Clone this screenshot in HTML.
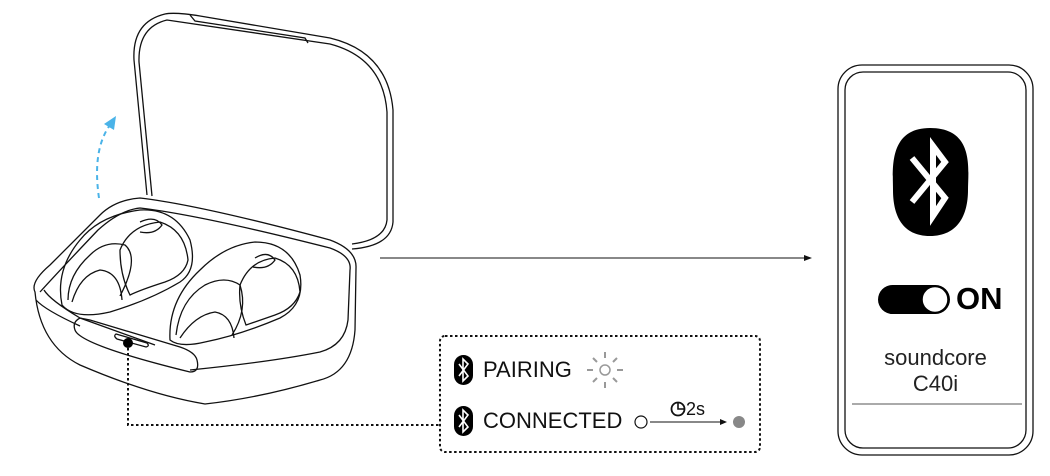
<!DOCTYPE html>
<html><head><meta charset="utf-8"><style>
html,body{margin:0;padding:0;background:#fff;}
body{width:1050px;height:476px;position:relative;overflow:hidden;font-family:"Liberation Sans",sans-serif;}
.t{position:absolute;white-space:nowrap;color:#111;}
</style></head><body>
<svg width="1050" height="476" style="position:absolute;left:0;top:0" fill="none" stroke="#111" stroke-width="1.3">
<!-- lid -->
<path d="M147,195 L134,60 Q132,22 165,14 Q175,12 200,16 L330,38 Q388,52 393,110 L393,222 Q391,246 352,249"/>
<path d="M152,196 L139,62 Q138,27 167,20 L330,44 Q383,58 387,112 L387,220 Q385,240 352,244"/>
<path d="M190,15 L195,21 L305,38 L308,43"/>
<!-- base outer -->
<path d="M35,292 Q30,282 50,265 L100,215 Q115,200 140,198 Q200,205 330,240 Q357,250 356,268 L355,330 Q352,372 320,380 Q260,398 205,404 Q150,395 80,365 Q40,345 35,292 Z"/>
<path d="M40,292 Q60,270 98,230 Q120,210 140,208 Q200,215 330,248 Q352,256 350,270 L348,320 Q345,345 320,352 Q270,362 190,370"/>
<path d="M44,290 Q50,300 80,318 L155,345"/>
<path d="M36,300 Q45,310 80,326"/>
<!-- front panel -->
<path d="M80,318 Q72,322 75,330 Q80,345 190,372 Q200,372 197,360 Q195,352 180,347 L90,320 Z"/>
<path d="M116,334 L147,343 Q150,346 146,347 L117,339 Q113,336 116,334 Z"/>
<!-- left earbud cavity -->
<path d="M62,305 Q55,270 80,240 Q100,215 140,210 Q175,208 190,240 Q198,270 180,282 Q150,300 110,312 Q75,320 62,305 Z"/>
<path d="M68,300 Q68,275 90,255 Q105,240 125,245 Q140,258 120,296"/>
<path d="M72,302 Q80,275 100,270 Q120,272 122,300"/>
<path d="M120,250 Q130,225 160,222 Q185,230 188,260 Q185,275 165,282 Q140,290 130,295 Q120,275 120,250 Z"/>
<path d="M140,222 Q155,215 162,225 Q155,235 140,232"/>
<!-- right earbud cavity -->
<path d="M170,340 Q168,300 200,270 Q225,245 255,242 Q290,242 300,275 Q305,305 280,318 Q240,335 205,342 Q180,348 170,340 Z"/>
<path d="M176,335 Q180,300 205,285 Q225,275 240,285 Q248,310 232,335"/>
<path d="M180,338 Q195,315 215,312 Q232,315 234,338"/>
<path d="M240,285 Q250,260 275,258 Q298,265 300,292 Q295,308 275,315 Q255,322 246,325 Q238,305 240,285 Z"/>
<path d="M255,258 Q268,250 275,260 Q268,270 253,267"/>
<!-- connectors -->
<circle cx="128" cy="343" r="5" fill="#000" stroke="none"/>
<path d="M128,348 L128,425 L440,425" stroke-dasharray="2.5,2.5" stroke-width="2"/>
<rect x="440" y="336" width="320" height="116" rx="5" stroke-dasharray="2.5,2.5" stroke-width="2"/>
<path d="M380,258 L806,258" stroke-width="1"/>
<path d="M812,258 L804,255 L804,261 Z" fill="#111" stroke="none"/>
<path d="M99,198 Q92,150 110,125" stroke="#4ab3e8" stroke-width="2" stroke-dasharray="5,4"/>
<path d="M116,116 L104,124 L114,130 Z" fill="#4ab3e8" stroke="none"/>
<!-- status icons -->
<rect x="454" y="355" width="19" height="30" rx="9.5" fill="#000" stroke="none"/>
<path d="M459,364 L468,376 L463,381 L463,359 L468,364 L459,376" stroke="#fff" stroke-width="1.6"/>
<rect x="454" y="406" width="19" height="30" rx="9.5" fill="#000" stroke="none"/>
<path d="M459,415 L468,427 L463,432 L463,410 L468,415 L459,427" stroke="#fff" stroke-width="1.6"/>
<g stroke="#999" stroke-width="2">
<circle cx="605" cy="370" r="5" stroke-width="1.5"/>
<path d="M605,352 L605,358 M605,382 L605,388 M587,370 L593,370 M617,370 L623,370 M593,358 L597,362 M613,378 L617,382 M617,358 L613,362 M597,378 L593,382"/>
</g>
<circle cx="641" cy="422" r="6" stroke-width="1.2"/>
<path d="M650,422 L722,422" stroke-width="1"/>
<path d="M727,422 L720,419 L720,425 Z" fill="#111" stroke="none"/>
<circle cx="739" cy="422" r="6" fill="#888" stroke="none"/>
<circle cx="678" cy="409" r="6.5" stroke-width="1.8"/>
<path d="M678,402.5 L678,409 L684.5,409" stroke-width="1.6"/>
<!-- phone -->
<rect x="838" y="65" width="195" height="390" rx="24" stroke-width="1.3"/>
<rect x="845" y="72" width="181" height="376" rx="18" stroke-width="1.3"/>
<path d="M930,128 C975,128 968,170 968,190 C968,215 958,236 930,236 C902,236 893,215 893,190 C893,170 888,128 930,128 Z" fill="#000" stroke="none"/>
<path d="M912,158 L945,198 L933,216 L933,146 L945,162 L912,202" stroke="#fff" stroke-width="6" stroke-linejoin="miter"/>
<rect x="878" y="285" width="72" height="29" rx="14.5" fill="#000" stroke="none"/>
<circle cx="935" cy="299.5" r="13" fill="#fff" stroke="#000" stroke-width="1.5"/>
<path d="M852,404 L1022,404" stroke="#777" stroke-width="1.2"/>
</svg>
<div class="t" style="left:483px;top:357px;font-size:22px;">PAIRING</div>
<div class="t" style="left:483px;top:408px;font-size:22px;">CONNECTED</div>
<div class="t" style="left:686px;top:399px;font-size:18px;">2s</div>
<div class="t" style="left:956px;top:281px;font-size:31px;font-weight:bold;color:#000;">ON</div>
<div class="t" style="left:845px;top:345px;width:181px;text-align:center;font-size:22px;line-height:26px;color:#222;">soundcore<br>C40i</div>
</body></html>
